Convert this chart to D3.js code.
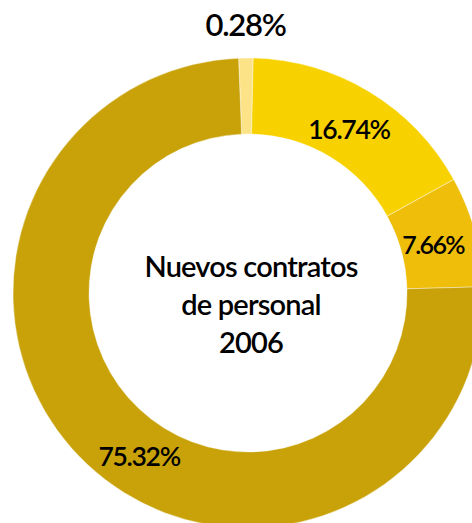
<!DOCTYPE html>
<html>
<head>
<meta charset="utf-8">
<script src="https://cdn.jsdelivr.net/npm/d3@7/dist/d3.min.js"></script>
<style>
  html, body { margin: 0; padding: 0; background: #fff; }
  svg { display: block; font-family: Lato, "Open Sans", sans-serif; }
</style>
</head>
<body>
<svg id="chart" width="472" height="523"></svg>
<script>
// slices, clockwise from 12 o'clock
const categories = ['a', 'b', 'c', 'd'];
const values = [0.28, 16.74, 7.66, 75.32];
const labels = ['0.28%', '16.74%', '7.66%', '75.32%'];
const colors = ['#FCE388', '#F8D200', '#EEBE0A', '#C8A208'];
const title = ['Nuevos contratos', 'de personal', '2006'];

const width = 472;
const height = 523;
const cx = 248;
const cy = 293;
const outerR = 235;
const innerR = 159;

const svg = d3.select('#chart');
const g = svg.append('g').attr('transform', `translate(${cx},${cy})`);

// tiny slices get a minimum share so they stay visible
const pie = d3.pie()
  .sort(null)
  .value((d) => Math.max(d, 1))
  .startAngle(-2.3 * Math.PI / 180)
  .endAngle(2 * Math.PI - 2.3 * Math.PI / 180);

const arcs = pie(values);

const arc = d3.arc().innerRadius(innerR).outerRadius(outerR);

g.selectAll('path.slice')
  .data(arcs)
  .enter()
  .append('path')
  .attr('class', 'slice')
  .attr('d', arc)
  .attr('fill', (d, i) => colors[i])
  .attr('stroke', '#fff')
  .attr('stroke-width', 0.4);

// label placement: inside the ring, the small top slice sits outside
const labelR = (i) => (values[i] < 1 ? 273 : 195);
const labelAngle = (d, i) => {
  const frac = values[i] > 50 ? 0.466 : 0.5;
  return d.startAngle + (d.endAngle - d.startAngle) * frac;
};

g.selectAll('text.label')
  .data(arcs)
  .enter()
  .append('text')
  .attr('class', 'label')
  .attr('x', (d, i) => labelR(i) * Math.sin(labelAngle(d, i)) - (values[i] > 5 && values[i] < 10 ? 3 : 0))
  .attr('y', (d, i) => -labelR(i) * Math.cos(labelAngle(d, i)))
  .attr('dy', (d, i) => (values[i] > 50 ? '0.42em' : '0.5em'))
  .attr('text-anchor', 'middle')
  .attr('font-size', (d, i) => (values[i] < 1 ? 31 : values[i] < 10 ? 25 : 26.5))
  .attr('font-weight', 600)
  .attr('letter-spacing', (d, i) => (values[i] > 1 && values[i] < 10 ? -1.6 : -1.3))
  .attr('fill', '#000')
  .text((d, i) => labels[i]);

g.append('text')
  .attr('text-anchor', 'middle')
  .attr('font-size', 29)
  .attr('font-weight', 600)
  .attr('letter-spacing', -0.8)
  .attr('fill', '#000')
  .selectAll('tspan')
  .data(title)
  .enter()
  .append('tspan')
  .attr('x', 3)
  .attr('y', (d, i) => -16 + i * 38)
  .text((d) => d);
</script>
</body>
</html>
